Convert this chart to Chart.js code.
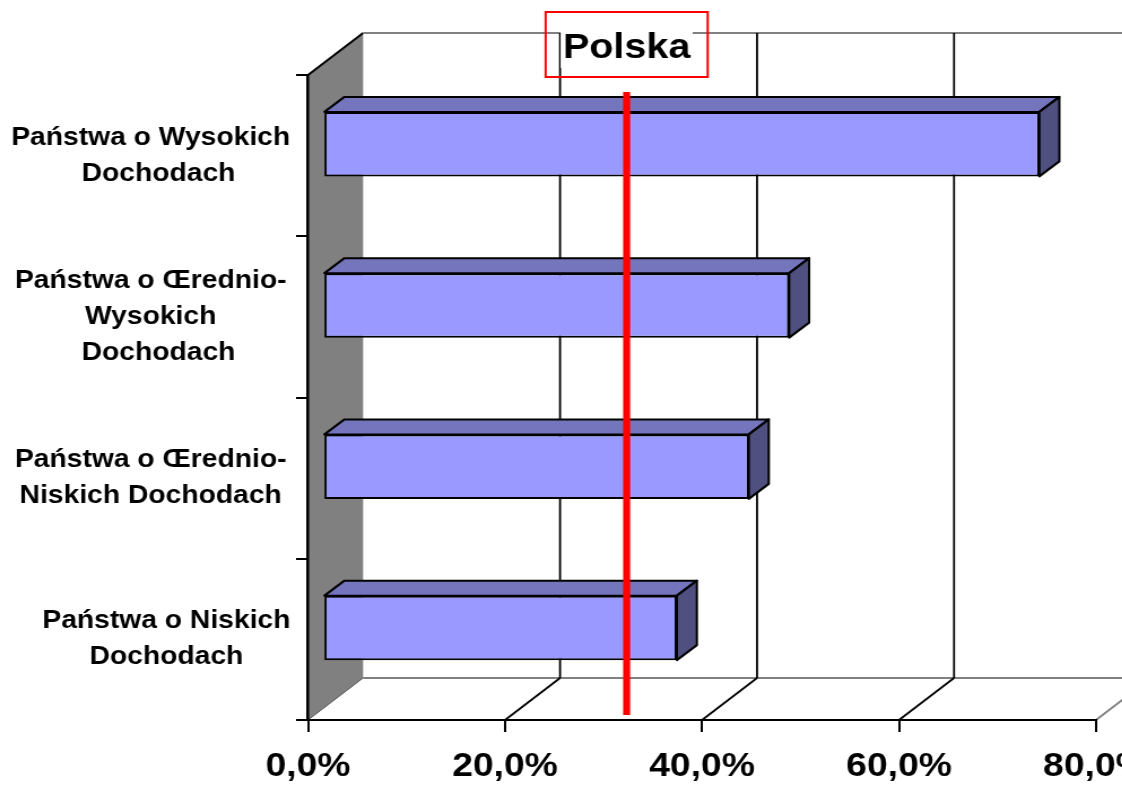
<!DOCTYPE html>
<html lang="pl">
<head>
<meta charset="UTF-8"/>
<title>Polska – grupy dochodowe</title>
<script src="https://cdn.jsdelivr.net/npm/chart.js"></script>
<style>
  html, body { margin: 0; padding: 0; background: #fff; overflow: hidden; }
  #wrap { width: 1122px; height: 787px; overflow: hidden; }
  /* the source picture is stretched horizontally, so is the canvas */
  canvas { display: block; transform: scaleX(1.13); transform-origin: 0 0; }
</style>
</head>
<body>
<div id="wrap"><canvas id="chart" width="1040" height="787"></canvas></div>
<script>
const SP2 = '\u00a0\u00a0';
const SP4 = SP2 + SP2;
const categories = [
  ['Państwa o Wysokich', SP2 + 'Dochodach'],
  ['Państwa o Œrednio-', 'Wysokich', SP2 + 'Dochodach'],
  ['Państwa o Œrednio-', 'Niskich Dochodach'],
  [SP4 + 'Państwa o Niskich', SP4 + 'Dochodach']
];
const shares = [0.727, 0.473, 0.432, 0.359];
const xTicks = [0, 0.2, 0.4, 0.6, 0.8];
const xTickLabels = ['0,0%', '20,0%', '40,0%', '60,0%', '80,0%'];
const polskaLabel = 'Polska';
const polskaValue = 0.308;

// oblique 3D offsets, in canvas units (before the css stretch)
const WALL = { dx: 48.7, dy: -42 };
const BAR_SHIFT = { dx: 13.5, dy: -11.5 };
const BAR_DEPTH = { dx: 17.7, dy: -15 };

const FONT = "'Liberation Sans', Arial, sans-serif";

function line(ctx, x1, y1, x2, y2) {
  ctx.beginPath();
  ctx.moveTo(x1, y1);
  ctx.lineTo(x2, y2);
  ctx.stroke();
}

const box3d = {
  id: 'box3d',
  beforeDraw(chart) {
    const { ctx, chartArea: a, scales: { x } } = chart;
    const x0 = x.getPixelForValue(xTicks[0]);
    const xEnd = x.getPixelForValue(xTicks[xTicks.length - 1]);
    ctx.save();
    // side wall
    ctx.fillStyle = '#808080';
    ctx.beginPath();
    ctx.moveTo(x0, a.top);
    ctx.lineTo(x0 + WALL.dx, a.top + WALL.dy);
    ctx.lineTo(x0 + WALL.dx, a.bottom + WALL.dy);
    ctx.lineTo(x0, a.bottom);
    ctx.closePath();
    ctx.fill();
    ctx.strokeStyle = '#555';
    ctx.lineWidth = 1;
    line(ctx, x0, a.bottom, x0 + WALL.dx, a.bottom + WALL.dy);
    ctx.strokeStyle = '#000';
    ctx.lineWidth = 2;
    line(ctx, x0, a.top, x0 + WALL.dx, a.top + WALL.dy);

    // back wall top edge and floor back edge
    ctx.strokeStyle = '#808080';
    ctx.lineWidth = 2;
    line(ctx, x0 + WALL.dx, a.top + WALL.dy, xEnd + WALL.dx + 40, a.top + WALL.dy);
    line(ctx, x0 + WALL.dx, a.bottom + WALL.dy, xEnd + WALL.dx + 40, a.bottom + WALL.dy);

    // back gridlines and floor diagonals
    xTicks.slice(1).forEach((v, i, arr) => {
      const px = x.getPixelForValue(v);
      ctx.strokeStyle = '#000';
      ctx.lineWidth = 1.8;
      line(ctx, px + WALL.dx, a.top + WALL.dy, px + WALL.dx, a.bottom + WALL.dy);
      ctx.strokeStyle = i === arr.length - 1 ? '#808080' : '#000';
      line(ctx, px, a.bottom, px + WALL.dx, a.bottom + WALL.dy);
    });
    ctx.restore();
  },
  beforeDatasetsDraw(chart) {
    chart.ctx.save();
    chart.ctx.translate(BAR_SHIFT.dx, BAR_SHIFT.dy);
  },
  afterDatasetsDraw(chart) {
    const { ctx, chartArea: a, scales: { x } } = chart;
    ctx.restore();
    ctx.save();
    ctx.translate(BAR_SHIFT.dx, BAR_SHIFT.dy);
    ctx.strokeStyle = '#000';
    ctx.lineWidth = 2;
    ctx.lineJoin = 'round';
    chart.getDatasetMeta(0).data.forEach(bar => {
      const p = bar.getProps(['x', 'y', 'base', 'height'], true);
      const t = p.y - p.height / 2, b = p.y + p.height / 2;
      // top face
      ctx.fillStyle = '#7575bd';
      ctx.beginPath();
      ctx.moveTo(p.base, t);
      ctx.lineTo(p.x, t);
      ctx.lineTo(p.x + BAR_DEPTH.dx, t + BAR_DEPTH.dy);
      ctx.lineTo(p.base + BAR_DEPTH.dx, t + BAR_DEPTH.dy);
      ctx.closePath();
      ctx.fill();
      ctx.stroke();
      // side face
      ctx.fillStyle = '#4f4f80';
      ctx.beginPath();
      ctx.moveTo(p.x, t);
      ctx.lineTo(p.x + BAR_DEPTH.dx, t + BAR_DEPTH.dy);
      ctx.lineTo(p.x + BAR_DEPTH.dx, b + BAR_DEPTH.dy);
      ctx.lineTo(p.x, b);
      ctx.closePath();
      ctx.fill();
      ctx.stroke();
    });
    ctx.restore();

    // Polska marker
    const px = x.getPixelForValue(polskaValue) + BAR_SHIFT.dx;
    ctx.save();
    ctx.fillStyle = '#ff0000';
    ctx.fillRect(px - 3.1, a.top + 17, 6.2, a.bottom - a.top - 22);
    ctx.restore();
  },
  afterDraw(chart) {
    const { ctx, scales: { x } } = chart;
    const px = x.getPixelForValue(polskaValue) + BAR_SHIFT.dx;
    ctx.save();
    ctx.font = 'bold 35px ' + FONT;
    const w = ctx.measureText(polskaLabel).width;
    ctx.fillStyle = '#fff';
    ctx.fillRect(px - w / 2 - 2, 28, w + 4, 40);
    ctx.fillStyle = '#000';
    ctx.textAlign = 'center';
    ctx.textBaseline = 'middle';
    ctx.fillText(polskaLabel, px, 48);
    ctx.strokeStyle = '#ff0000';
    ctx.lineWidth = 2;
    ctx.strokeRect(px - 71.7, 12, 143.4, 65);
    ctx.restore();
  }
};

new Chart(document.getElementById('chart'), {
  type: 'bar',
  data: {
    labels: categories,
    datasets: [{
      data: shares,
      backgroundColor: '#9999ff',
      borderColor: '#000',
      borderWidth: 2,
      borderSkipped: false,
      categoryPercentage: 1,
      barPercentage: 0.4
    }]
  },
  options: {
    indexAxis: 'y',
    responsive: false,
    animation: false,
    events: [],
    layout: { padding: { left: 0, top: 75, right: 70.1, bottom: 0 } },
    plugins: { legend: { display: false }, tooltip: { enabled: false } },
    scales: {
      x: {
        min: 0,
        max: 0.8,
        afterFit: s => { s.height = 67; },
        afterBuildTicks: s => { s.ticks = xTicks.map(v => ({ value: v })); },
        ticks: {
          color: '#000',
          padding: 15,
          maxRotation: 0,
          autoSkip: false,
          font: { family: FONT, size: 33, weight: 'bold' },
          callback: (v, i) => xTickLabels[i]
        },
        grid: { drawOnChartArea: false, drawTicks: true, tickLength: 12, color: '#000', lineWidth: 2 },
        border: { display: true, color: '#000', width: 2 }
      },
      y: {
        afterFit: s => { s.width = 272.6; },
        ticks: {
          color: '#000',
          padding: 5,
          crossAlign: 'center',
          autoSkip: false,
          font: { family: FONT, size: 25, weight: 'bold', lineHeight: 1.44 }
        },
        grid: { offset: true, drawOnChartArea: false, drawTicks: true, tickLength: 10.6, color: '#000', lineWidth: 2 },
        border: { display: true, color: '#000', width: 2.6 }
      }
    }
  },
  plugins: [box3d]
});
</script>
</body>
</html>
